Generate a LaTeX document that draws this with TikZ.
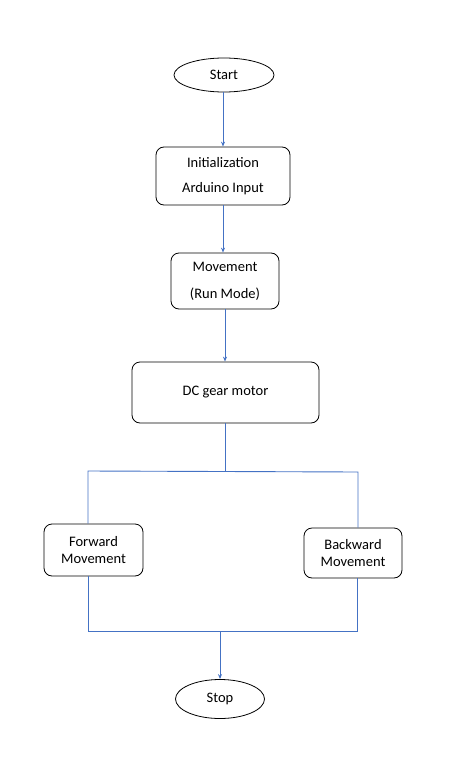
\documentclass[tikz,border=0pt]{standalone}
\usepackage{fontspec}
\setmainfont{Carlito}
\usetikzlibrary{arrows.meta,shapes.geometric}
\definecolor{flowblue}{RGB}{68,114,196}
\begin{document}
\begin{tikzpicture}[x=1pt,y=-1pt,font=\fontsize{14.5}{17}\selectfont,
  term/.style={draw=black, line width=0.8pt, ellipse, inner sep=0pt},
  stepbox/.style={draw=black, line width=0.8pt, rounded corners=8pt, align=center, inner sep=0pt},
  flow/.style={draw=flowblue, line width=0.9pt},
  flowarrow/.style={flow, -{Stealth[length=5pt,width=4pt]}}]
\useasboundingbox (0,0) rectangle (469,776);

% start / stop
\node[term, minimum width=100pt, minimum height=34pt] (start) at (224,75) {Start};
\node[term, minimum width=89pt, minimum height=39pt] (stop) at (220,699) {Stop};

% process steps
\node[stepbox, minimum width=134pt, minimum height=58pt] (init) at (223,176) {Initialization\\[8pt]Arduino Input};
\node[stepbox, minimum width=108pt, minimum height=56pt] (move) at (225,281) {Movement\\[10pt](Run Mode)};
\node[stepbox, minimum width=187pt, minimum height=61pt] (motor) at (225.5,392.5) {\raisebox{4pt}{DC gear motor}};
\node[stepbox, minimum width=99pt, minimum height=52pt] (fwd) at (93.5,550) {Forward\\Movement};
\node[stepbox, minimum width=98pt, minimum height=50pt] (bwd) at (353,553) {Backward\\Movement};

% branch points
\coordinate (tl) at (88,471);
\coordinate (tr) at (358,472);
\coordinate (bl) at (88,631);
\coordinate (br) at (357,631);

\draw[flowarrow] (start.south -| init.north) -- (init.north);
\draw[flowarrow] (init.south) -- (init.south |- move.north);
\draw[flowarrow] (move.south) -- (move.south |- motor.north);

\draw[flow] (motor.south) -- (motor.south |- tl);
\draw[flow] (tl |- fwd.north) -- (tl) -- (tr) -- (tr |- bwd.north);
\draw[flow] (bl |- fwd.south) -- (bl) -- (br) -- (br |- bwd.south);
\draw[flowarrow] (stop.north |- bl) -- (stop.north);
\end{tikzpicture}
\end{document}
